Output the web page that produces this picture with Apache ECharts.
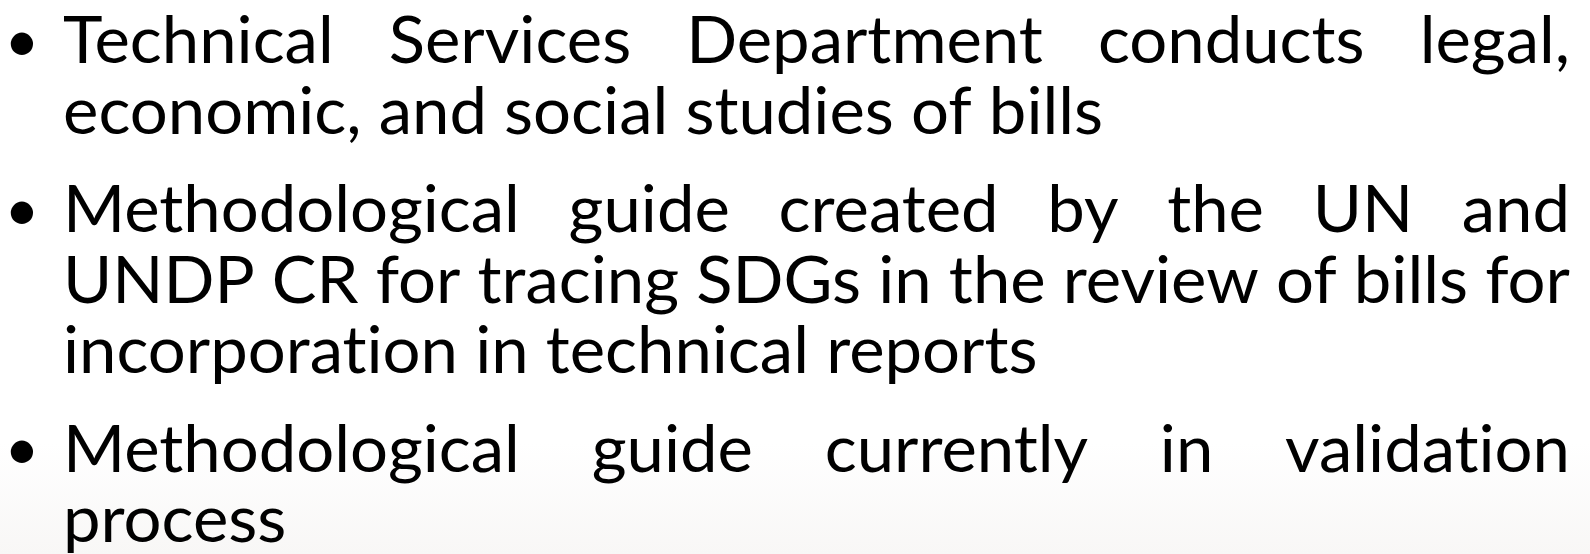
<!DOCTYPE html>
<html>
<head>
<meta charset="utf-8">
<script src="https://cdn.jsdelivr.net/npm/echarts@6/dist/echarts.min.js"></script>
<style>
  html, body { margin: 0; padding: 0; background: #fff; }
  #slide { width: 1590px; height: 554px; }
</style>
</head>
<body>
<div id="slide"></div>
<script>
// one entry per printed line of the slide
let lines = [
  "Technical Services Department conducts legal,",
  "economic, and social studies of bills",
  "Methodological guide created by the UN and",
  "UNDP CR for tracing SDGs in the review of bills for",
  "incorporation in technical reports",
  "Methodological guide currently in validation",
  "process",
];
// which bullet each line belongs to
let para = [0, 0, 1, 1, 1, 2, 2];
// last line of a bullet is left aligned, the others are justified
let justified = [true, false, true, true, false, true, false];

let myChart = echarts.init(document.getElementById("slide"));

let fontSize = 66;
let fontFamily = "Lato";
let font = "normal " + fontSize + "px " + fontFamily;
let textLeft = 63;
let textRight = 1570;
let bulletX = 22;
let firstBase = 62;
let linePitch = 70.5;
let paraGap = 28;

let ctx = document.createElement("canvas").getContext("2d");
ctx.font = font;
// Lato joins "ti", the slide font does not
function noLig(s) {
  return s.replace(/t(?=i)/g, "t\u200C");
}
function w(s) {
  return ctx.measureText(noLig(s)).width;
}
let spaceW = w(" ");

// calibrate horizontal squeeze on the tightest justified line
let sx = (textRight - textLeft) / w(lines[3]);
let boxW = (textRight - textLeft) / sx;

let els = [
  {
    type: "rect",
    z: 0,
    silent: true,
    shape: { x: 0, y: 0, width: 1590, height: 554 },
    style: {
      fill: new echarts.graphic.LinearGradient(0, 0, 0, 1, [
        { offset: 0, color: "#ffffff" },
        { offset: 0.8, color: "#ffffff" },
        { offset: 1, color: "#f8f7f6" },
      ]),
    },
  },
];

lines.forEach(function (line, i) {
  let base = firstBase + i * linePitch + para[i] * paraGap;
  let yMid = base - fontSize * 0.3;
  let words = line.split(" ");
  let sum = 0;
  words.forEach(function (wd) {
    sum += w(wd);
  });
  let gap = spaceW;
  if (justified[i] && words.length > 1) {
    gap = (boxW - sum) / (words.length - 1);
  }
  let children = [];
  let x = 0;
  words.forEach(function (wd) {
    children.push({
      type: "text",
      x: x,
      y: 0,
      style: {
        text: noLig(wd),
        font: font,
        fill: "#000",
        verticalAlign: "middle",
      },
    });
    x += w(wd) + gap;
  });
  els.push({
    type: "group",
    x: textLeft,
    y: yMid,
    scaleX: sx,
    z: 2,
    children: children,
  });
  if (i === 0 || para[i] !== para[i - 1]) {
    els.push({
      type: "text",
      x: bulletX,
      y: yMid,
      z: 2,
      style: {
        text: "\u2022",
        font: "normal 60px " + fontFamily,
        fill: "#000",
        align: "center",
        verticalAlign: "middle",
      },
    });
  }
});

myChart.setOption({
  animation: false,
  graphic: { elements: els },
});
</script>
</body>
</html>
